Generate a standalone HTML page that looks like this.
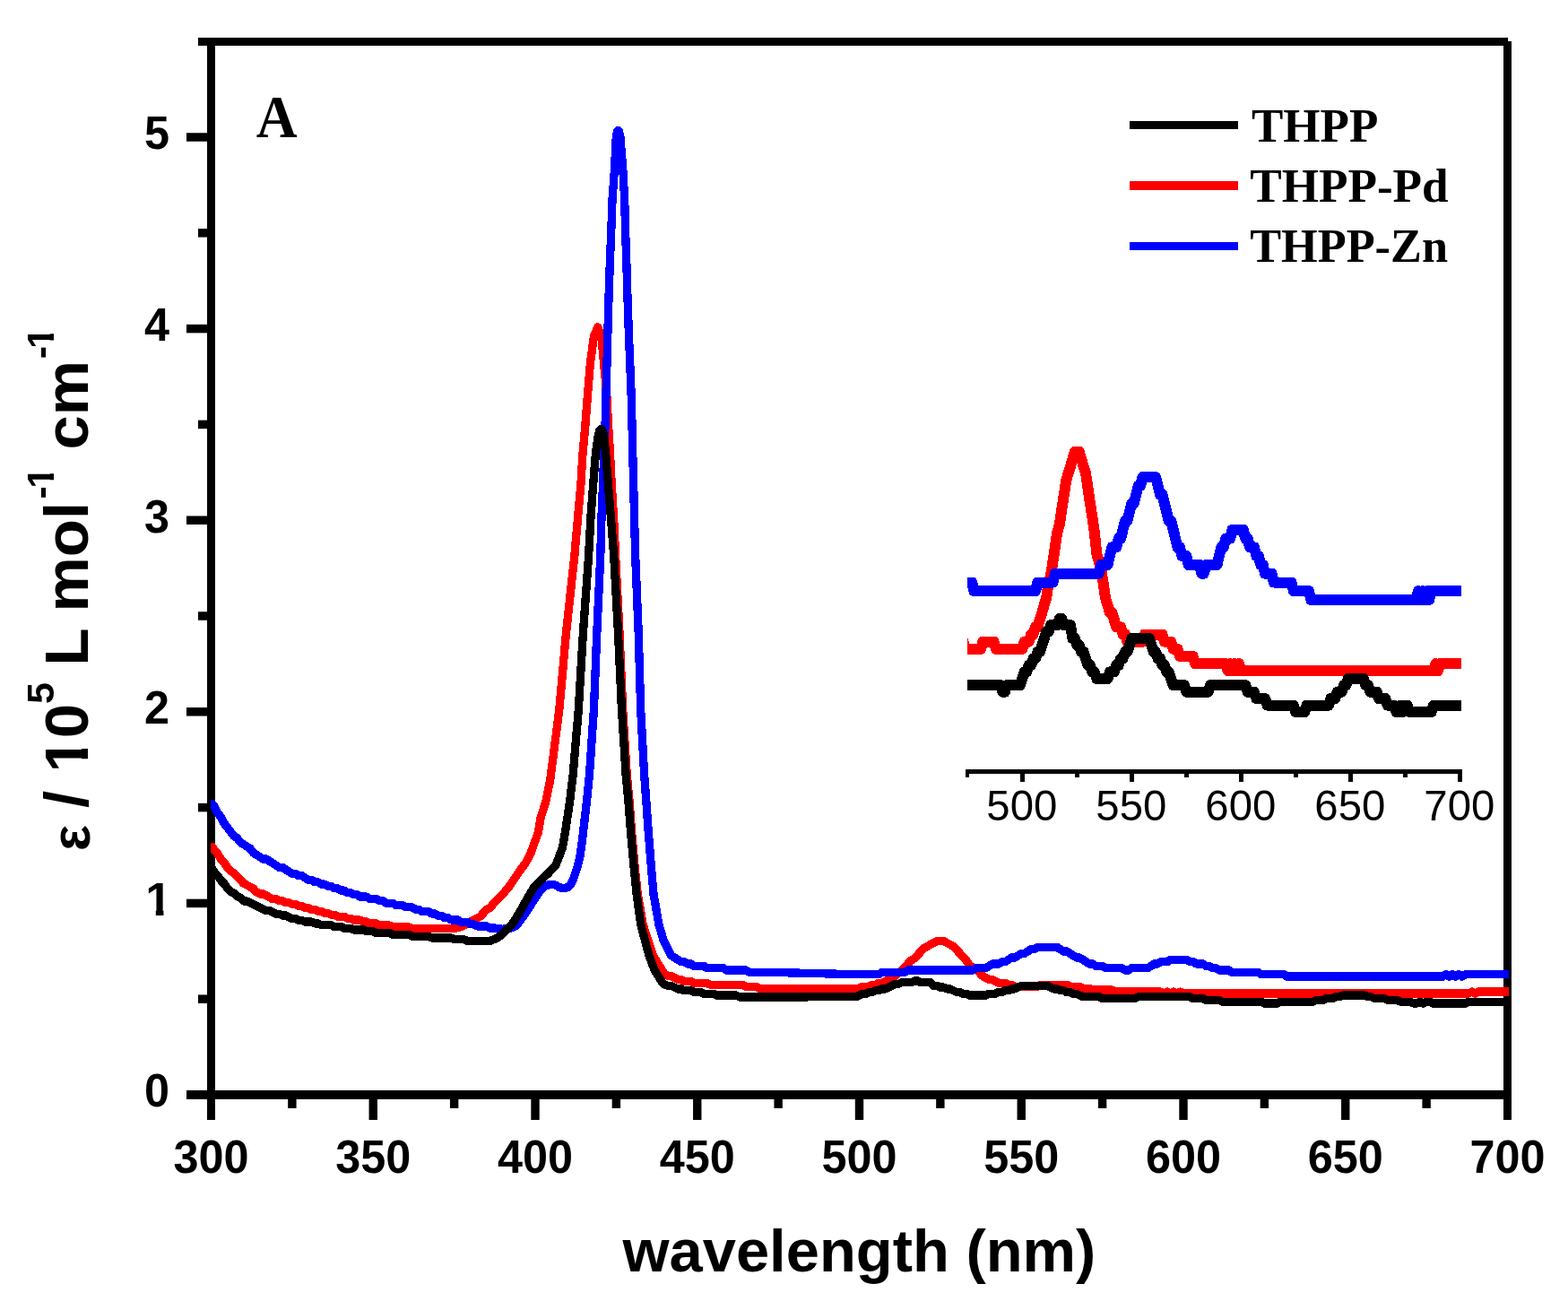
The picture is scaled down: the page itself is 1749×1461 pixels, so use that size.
<!DOCTYPE html>
<html lang="en"><head><meta charset="utf-8"><title>UV-vis absorption spectra</title>
<style>
html,body{margin:0;padding:0;background:#fff}
svg{display:block}
.b{font-family:"Liberation Sans",Arial,Helvetica,sans-serif;font-weight:bold;fill:#000}
.r{font-family:"Liberation Sans",Arial,Helvetica,sans-serif;fill:#000}
.s{font-family:"Liberation Serif","Times New Roman",Times,serif;font-weight:bold;fill:#000}
.c{fill:none;stroke-linejoin:round;stroke-linecap:round}
.u{shape-rendering:geometricPrecision}
</style></head>
<body>
<svg width="1749" height="1461" viewBox="0 0 1749 1461" shape-rendering="crispEdges">
<rect width="1749" height="1461" fill="#fff"/>
<defs><clipPath id="cm"><rect x="235" y="40" width="1448" height="1190"/></clipPath><clipPath id="ci"><rect x="1079" y="480" width="551" height="375"/></clipPath></defs>
<g fill="#000">
<rect x="231" y="42" width="9" height="1207"/>
<rect x="1677" y="46" width="9" height="1203"/>
<rect x="221" y="42" width="1461" height="9"/>
<rect x="208" y="1216" width="1474" height="10"/>
<rect class="u" x="221" y="1109.45" width="11" height="9.5"/>
<rect class="u" x="208" y="1002.65" width="24" height="9.5"/>
<rect class="u" x="221" y="895.85" width="11" height="9.5"/>
<rect class="u" x="208" y="789.05" width="24" height="9.5"/>
<rect class="u" x="221" y="682.25" width="11" height="9.5"/>
<rect class="u" x="208" y="575.45" width="24" height="9.5"/>
<rect class="u" x="221" y="468.65" width="11" height="9.5"/>
<rect class="u" x="208" y="361.85" width="24" height="9.5"/>
<rect class="u" x="221" y="255.05" width="11" height="9.5"/>
<rect class="u" x="208" y="148.25" width="24" height="9.5"/>
<rect class="u" x="321.18" y="1220" width="9.4" height="16"/>
<rect class="u" x="411.55" y="1220" width="9.4" height="29"/>
<rect class="u" x="501.93" y="1220" width="9.4" height="16"/>
<rect class="u" x="592.30" y="1220" width="9.4" height="29"/>
<rect class="u" x="682.67" y="1220" width="9.4" height="16"/>
<rect class="u" x="773.05" y="1220" width="9.4" height="29"/>
<rect class="u" x="863.42" y="1220" width="9.4" height="16"/>
<rect class="u" x="953.80" y="1220" width="9.4" height="29"/>
<rect class="u" x="1044.17" y="1220" width="9.4" height="16"/>
<rect class="u" x="1134.55" y="1220" width="9.4" height="29"/>
<rect class="u" x="1224.92" y="1220" width="9.4" height="16"/>
<rect class="u" x="1315.30" y="1220" width="9.4" height="29"/>
<rect class="u" x="1405.67" y="1220" width="9.4" height="16"/>
<rect class="u" x="1496.05" y="1220" width="9.4" height="29"/>
<rect class="u" x="1586.42" y="1220" width="9.4" height="16"/>
</g>
<g class="b" font-size="52.3" text-anchor="middle">
<text x="235.5" y="1308" textLength="84" lengthAdjust="spacingAndGlyphs">300</text>
<text x="416.2" y="1308" textLength="84" lengthAdjust="spacingAndGlyphs">350</text>
<text x="597.0" y="1308" textLength="84" lengthAdjust="spacingAndGlyphs">400</text>
<text x="777.8" y="1308" textLength="84" lengthAdjust="spacingAndGlyphs">450</text>
<text x="958.5" y="1308" textLength="84" lengthAdjust="spacingAndGlyphs">500</text>
<text x="1139.2" y="1308" textLength="84" lengthAdjust="spacingAndGlyphs">550</text>
<text x="1320.0" y="1308" textLength="84" lengthAdjust="spacingAndGlyphs">600</text>
<text x="1500.8" y="1308" textLength="84" lengthAdjust="spacingAndGlyphs">650</text>
<text x="1681.5" y="1308" textLength="84" lengthAdjust="spacingAndGlyphs">700</text>
</g>
<g class="b" font-size="52.3" text-anchor="end">
<text x="189" y="1234.4" textLength="28" lengthAdjust="spacingAndGlyphs">0</text>
<clipPath id="c1_1"><path d="M159.30,968.50 H193.68 V1014.42 H182.44 V1023.80 H173.81 V1014.42 H159.30 Z"/></clipPath><text clip-path="url(#c1_1)" font-size="52.3" x="162.30" y="1020.80" text-anchor="start">1</text>
<text x="189" y="807.2" textLength="28" lengthAdjust="spacingAndGlyphs">2</text>
<text x="189" y="593.6" textLength="28" lengthAdjust="spacingAndGlyphs">3</text>
<text x="189" y="380.0" textLength="28" lengthAdjust="spacingAndGlyphs">4</text>
<text x="189" y="166.4" textLength="28" lengthAdjust="spacingAndGlyphs">5</text>
</g>
<text class="b" font-size="66" x="958.4" y="1417.7" text-anchor="middle" textLength="528" lengthAdjust="spacingAndGlyphs">wavelength (nm)</text>
<g class="b" transform="translate(98.3 0) rotate(-90)">
<text font-size="61" x="-949.0" y="1.5">ε</text>
<text font-size="69" x="-901.0" y="0">/</text>
<clipPath id="c1_2"><path d="M-864.50,-69.00 H-820.10 V-8.42 H-834.93 V3.00 H-846.32 V-8.42 H-864.50 Z M-821.83,-69.00 H-709.70 V20.70 H-821.83 Z"/></clipPath><text clip-path="url(#c1_2)" font-size="69" x="-861.50" y="0.00">10</text>
<text font-size="43" x="-785.0" y="-38.5">5</text>
<text font-size="69" x="-742.5" y="0">L</text>
<text font-size="69" x="-682.5" y="0">mol</text>
<text font-size="43" x="-556.4" y="-38.5">-</text>
<clipPath id="c1_3"><path d="M-547.70,-81.50 H-518.90 V-43.75 H-528.15 V-35.50 H-535.24 V-43.75 H-547.70 Z"/></clipPath><text clip-path="url(#c1_3)" font-size="43" x="-544.70" y="-38.50">1</text>
<text font-size="69" x="-501.5" y="0">cm</text>
<text font-size="43" x="-400.2" y="-38.5">-</text>
<clipPath id="c1_4"><path d="M-391.90,-81.50 H-363.10 V-43.75 H-372.34 V-35.50 H-379.44 V-43.75 H-391.90 Z"/></clipPath><text clip-path="url(#c1_4)" font-size="43" x="-388.90" y="-38.50">1</text>
</g>
<text class="s" font-size="67.5" x="285.7" y="152.5" textLength="45.8" lengthAdjust="spacingAndGlyphs">A</text>
<rect x="1260" y="135" width="121" height="9" fill="#000"/>
<text class="s" font-size="53" x="1396" y="158.2">THPP</text>
<rect x="1260" y="202" width="121" height="10" fill="#f00"/>
<text class="s" font-size="53" x="1394.2" y="225.0" textLength="221.4" lengthAdjust="spacingAndGlyphs">THPP-Pd</text>
<rect x="1260" y="270" width="121" height="9" fill="#00f"/>
<text class="s" font-size="53" x="1394.2" y="292.0" textLength="220.8" lengthAdjust="spacingAndGlyphs">THPP-Zn</text>
<g clip-path="url(#cm)">
<polyline class="c u" stroke="#f00" stroke-width="8.100000000000001" points="237.0,944.5 239.1,948.1 242.7,952.0 246.3,957.9 250.0,961.8 253.6,967.6 257.2,971.5 260.8,973.5 264.4,977.4 268.0,981.2 271.6,985.1 275.3,987.1 278.9,989.0 282.5,991.0 286.1,994.9 289.7,996.9 293.3,996.9 297.0,998.8 300.6,1000.8 304.2,1002.7 307.8,1002.7 311.4,1004.6 315.0,1004.6 318.6,1006.6 322.3,1006.6 325.9,1008.5 329.5,1008.5 333.1,1010.5 336.7,1010.5 340.3,1012.5 343.9,1012.5 347.6,1014.4 351.2,1014.4 354.8,1016.4 358.4,1016.4 362.0,1018.3 365.6,1018.3 369.3,1020.2 372.9,1020.2 376.5,1022.2 383.7,1022.2 387.3,1024.2 390.9,1024.2 394.6,1026.1 401.8,1026.1 405.4,1028.0 409.0,1028.0 412.6,1030.0 419.9,1030.0 423.5,1032.0 434.3,1032.0 437.9,1033.9 456.0,1033.9 459.6,1035.8 506.6,1035.8 510.2,1033.9 513.9,1033.9 517.5,1032.0 521.1,1030.0 524.7,1028.0 528.3,1026.1 531.9,1024.2 535.5,1022.2 539.2,1018.3 542.8,1014.4 546.4,1012.5 551.5,1006.7 560.9,997.2 568.6,987.8 577.8,974.0 586.5,962.0 591.6,952.5 596.5,938.9 600.3,928.6 603.2,911.5 608.7,894.3 613.7,870.0 623.8,791.5 631.5,705.8 640.8,620.0 644.7,575.8 647.8,541.5 649.9,507.2 653.0,472.9 655.6,438.6 658.5,404.3 662.5,375.0 666.7,364.8 670.8,375.0 673.5,404.3 676.7,438.6 678.5,472.9 680.6,507.2 682.3,541.5 684.5,575.8 686.6,620.0 691.0,705.8 694.7,791.5 699.3,865.0 702.2,894.3 704.6,928.6 707.7,962.9 711.3,997.2 717.3,1031.5 728.5,1065.8 741.0,1086.0 745.2,1088.5 748.8,1088.5 752.4,1090.5 756.1,1092.4 759.7,1092.4 763.3,1094.3 770.5,1094.3 774.1,1096.3 788.6,1096.3 792.2,1098.2 828.4,1098.2 832.0,1100.2 842.8,1100.2 846.4,1102.2 860.9,1102.2 954.9,1102.2 958.5,1102.2 962.1,1100.2 969.3,1100.2 973.0,1098.3 976.6,1098.3 980.2,1096.3 983.8,1096.3 987.4,1094.4 991.0,1092.4 994.7,1090.5 998.3,1088.5 1001.9,1084.6 1005.5,1082.7 1009.1,1078.8 1012.7,1074.9 1016.3,1071.0 1020.0,1069.0 1023.6,1065.1 1027.2,1061.2 1030.8,1057.3 1034.4,1055.4 1038.0,1053.4 1041.6,1051.5 1045.3,1049.5 1052.5,1049.5 1056.1,1051.5 1059.7,1053.4 1063.3,1055.4 1067.0,1059.3 1070.6,1063.2 1074.2,1067.1 1077.8,1071.0 1081.4,1076.8 1085.0,1078.8 1088.6,1080.7 1092.3,1084.6 1095.9,1088.5 1099.5,1090.5 1103.1,1092.4 1106.7,1092.4 1110.3,1094.4 1113.9,1096.3 1121.2,1096.3 1124.8,1098.3 1128.4,1098.3 1132.0,1100.2 1157.3,1100.2 1160.9,1098.3 1189.9,1098.3 1193.5,1100.2 1204.3,1100.2 1207.9,1102.2 1215.2,1102.2 1218.8,1104.1 1240.5,1104.1 1244.1,1106.1 1294.7,1106.1 1298.3,1108.0 1301.9,1106.1 1305.5,1108.0 1309.2,1106.1 1312.8,1108.0 1316.4,1106.1 1320.0,1108.0 1638.1,1108.0 1641.8,1106.1 1645.4,1108.0 1649.0,1106.1 1699.6,1106.1"/>
<polyline class="c" stroke="#f00" stroke-width="9.3" points="237.0,944.5 239.1,948.1 242.7,952.0 246.3,957.9 250.0,961.8 253.6,967.6 257.2,971.5 260.8,973.5 264.4,977.4 268.0,981.2 271.6,985.1 275.3,987.1 278.9,989.0 282.5,991.0 286.1,994.9 289.7,996.9 293.3,996.9 297.0,998.8 300.6,1000.8 304.2,1002.7 307.8,1002.7 311.4,1004.6 315.0,1004.6 318.6,1006.6 322.3,1006.6 325.9,1008.5 329.5,1008.5 333.1,1010.5 336.7,1010.5 340.3,1012.5 343.9,1012.5 347.6,1014.4 351.2,1014.4 354.8,1016.4 358.4,1016.4 362.0,1018.3 365.6,1018.3 369.3,1020.2 372.9,1020.2 376.5,1022.2 383.7,1022.2 387.3,1024.2 390.9,1024.2 394.6,1026.1 401.8,1026.1 405.4,1028.0 409.0,1028.0 412.6,1030.0 419.9,1030.0 423.5,1032.0 434.3,1032.0 437.9,1033.9 456.0,1033.9 459.6,1035.8 506.6,1035.8 510.2,1033.9 513.9,1033.9 517.5,1032.0 521.1,1030.0 524.7,1028.0 528.3,1026.1 531.9,1024.2 535.5,1022.2 539.2,1018.3 542.8,1014.4 546.4,1012.5 551.5,1006.7 560.9,997.2 568.6,987.8 577.8,974.0 586.5,962.0 591.6,952.5 596.5,938.9 600.3,928.6 603.2,911.5 608.7,894.3 613.7,870.0 623.8,791.5 631.5,705.8 640.8,620.0 644.7,575.8 647.8,541.5 649.9,507.2 653.0,472.9 655.6,438.6 658.5,404.3 662.5,375.0 666.7,364.8 670.8,375.0 673.5,404.3 676.7,438.6 678.5,472.9 680.6,507.2 682.3,541.5 684.5,575.8 686.6,620.0 691.0,705.8 694.7,791.5 699.3,865.0 702.2,894.3 704.6,928.6 707.7,962.9 711.3,997.2 717.3,1031.5 728.5,1065.8 741.0,1086.0 745.2,1088.5 748.8,1088.5 752.4,1090.5 756.1,1092.4 759.7,1092.4 763.3,1094.3 770.5,1094.3 774.1,1096.3 788.6,1096.3 792.2,1098.2 828.4,1098.2 832.0,1100.2 842.8,1100.2 846.4,1102.2 860.9,1102.2 954.9,1102.2 958.5,1102.2 962.1,1100.2 969.3,1100.2 973.0,1098.3 976.6,1098.3 980.2,1096.3 983.8,1096.3 987.4,1094.4 991.0,1092.4 994.7,1090.5 998.3,1088.5 1001.9,1084.6 1005.5,1082.7 1009.1,1078.8 1012.7,1074.9 1016.3,1071.0 1020.0,1069.0 1023.6,1065.1 1027.2,1061.2 1030.8,1057.3 1034.4,1055.4 1038.0,1053.4 1041.6,1051.5 1045.3,1049.5 1052.5,1049.5 1056.1,1051.5 1059.7,1053.4 1063.3,1055.4 1067.0,1059.3 1070.6,1063.2 1074.2,1067.1 1077.8,1071.0 1081.4,1076.8 1085.0,1078.8 1088.6,1080.7 1092.3,1084.6 1095.9,1088.5 1099.5,1090.5 1103.1,1092.4 1106.7,1092.4 1110.3,1094.4 1113.9,1096.3 1121.2,1096.3 1124.8,1098.3 1128.4,1098.3 1132.0,1100.2 1157.3,1100.2 1160.9,1098.3 1189.9,1098.3 1193.5,1100.2 1204.3,1100.2 1207.9,1102.2 1215.2,1102.2 1218.8,1104.1 1240.5,1104.1 1244.1,1106.1 1294.7,1106.1 1298.3,1108.0 1301.9,1106.1 1305.5,1108.0 1309.2,1106.1 1312.8,1108.0 1316.4,1106.1 1320.0,1108.0 1638.1,1108.0 1641.8,1106.1 1645.4,1108.0 1649.0,1106.1 1699.6,1106.1"/>
<polyline class="c u" stroke="#00f" stroke-width="8.100000000000001" points="237.0,896.5 239.1,899.5 242.7,906.5 246.3,911.2 250.0,918.2 253.6,922.9 257.2,927.6 260.8,932.3 264.4,934.6 268.0,939.3 271.6,941.6 275.3,944.0 278.9,946.3 282.5,951.0 286.1,953.3 289.7,955.7 293.3,958.0 297.0,958.0 300.6,960.4 304.2,962.7 307.8,965.0 311.4,967.4 315.0,967.4 318.6,969.7 322.3,972.1 325.9,974.4 329.5,974.4 333.1,976.7 336.7,976.7 340.3,979.1 343.9,981.4 347.6,981.4 351.2,983.8 354.8,983.8 358.4,986.1 362.0,986.1 365.6,988.4 369.3,988.4 372.9,990.8 376.5,990.8 380.1,993.1 383.7,993.1 387.3,995.5 390.9,995.5 394.6,997.8 398.2,997.8 401.8,1000.1 409.0,1000.1 412.6,1002.5 419.9,1002.5 423.5,1004.8 427.1,1004.8 430.7,1007.2 437.9,1007.2 441.6,1009.5 448.8,1009.5 452.4,1011.8 459.6,1011.8 463.2,1014.2 466.9,1014.2 470.5,1016.5 477.7,1016.5 481.3,1018.9 484.9,1018.9 488.6,1021.2 492.2,1021.2 495.8,1023.5 499.4,1023.5 503.0,1025.9 510.2,1025.9 513.9,1028.2 521.1,1028.2 524.7,1030.6 528.3,1030.6 531.9,1032.9 542.8,1032.9 546.4,1035.2 551.5,1035.0 560.0,1036.2 567.0,1036.0 575.4,1032.9 584.0,1021.5 591.7,1010.0 598.9,998.6 604.0,991.5 609.0,987.8 613.5,986.3 616.5,986.2 620.5,987.6 624.0,989.8 628.6,990.5 633.0,989.8 636.5,986.5 639.5,980.3 643.5,968.9 646.8,956.3 648.9,941.4 650.3,930.0 654.4,894.3 657.4,865.0 662.4,791.5 665.8,705.8 669.8,620.0 671.0,575.8 672.5,541.5 673.7,507.2 675.1,472.9 676.0,438.6 677.0,404.3 677.9,370.0 679.2,325.8 680.4,291.5 681.8,257.2 683.0,222.9 685.5,188.6 687.3,153.0 688.6,146.5 689.5,145.7 690.4,146.5 691.9,153.0 694.8,188.6 696.7,222.9 697.6,257.2 698.8,291.5 699.8,325.8 701.3,370.0 702.7,404.3 704.1,438.6 705.0,472.9 705.8,507.2 706.7,541.5 707.5,575.8 708.7,620.0 712.2,705.8 714.7,791.5 718.7,865.0 720.9,894.3 723.3,928.6 726.1,962.9 729.0,997.2 735.0,1031.5 740.1,1048.7 745.2,1058.6 748.8,1065.7 752.4,1068.0 756.1,1070.3 759.7,1072.7 763.3,1072.7 766.9,1075.0 770.5,1075.0 774.1,1077.4 785.0,1077.4 788.6,1079.7 806.7,1079.7 810.3,1082.0 832.0,1082.0 835.6,1084.4 860.9,1084.4 954.9,1086.7 980.2,1086.7 983.8,1084.4 1009.1,1084.4 1012.7,1082.0 1085.0,1082.0 1088.6,1079.7 1099.5,1079.7 1103.1,1077.4 1106.7,1075.0 1113.9,1075.0 1117.6,1072.7 1121.2,1072.7 1124.8,1070.3 1128.4,1068.0 1132.0,1068.0 1135.6,1065.7 1139.3,1063.3 1142.9,1063.3 1146.5,1061.0 1150.1,1058.6 1153.7,1058.6 1157.3,1056.3 1179.0,1056.3 1182.6,1058.6 1186.3,1061.0 1189.9,1061.0 1193.5,1063.3 1197.1,1065.7 1200.7,1068.0 1204.3,1068.0 1207.9,1070.3 1211.6,1072.7 1215.2,1075.0 1218.8,1075.0 1222.4,1077.4 1229.6,1077.4 1233.2,1079.7 1251.3,1079.7 1254.9,1082.0 1258.6,1082.0 1262.2,1079.7 1280.2,1079.7 1283.9,1077.4 1287.5,1075.0 1291.1,1075.0 1294.7,1072.7 1301.9,1072.7 1305.5,1070.3 1323.6,1070.3 1327.2,1072.7 1330.9,1072.7 1334.5,1075.0 1341.7,1075.0 1345.3,1077.4 1348.9,1077.4 1352.5,1079.7 1356.2,1079.7 1359.8,1082.0 1370.6,1082.0 1374.2,1084.4 1403.2,1084.4 1406.8,1086.7 1432.1,1086.7 1435.7,1089.1 1609.2,1089.1 1612.8,1086.7 1616.4,1089.1 1620.1,1086.7 1623.7,1089.1 1627.3,1086.7 1630.9,1089.1 1634.5,1086.7 1699.6,1086.7"/>
<polyline class="c" stroke="#00f" stroke-width="9.3" points="237.0,896.5 239.1,899.5 242.7,906.5 246.3,911.2 250.0,918.2 253.6,922.9 257.2,927.6 260.8,932.3 264.4,934.6 268.0,939.3 271.6,941.6 275.3,944.0 278.9,946.3 282.5,951.0 286.1,953.3 289.7,955.7 293.3,958.0 297.0,958.0 300.6,960.4 304.2,962.7 307.8,965.0 311.4,967.4 315.0,967.4 318.6,969.7 322.3,972.1 325.9,974.4 329.5,974.4 333.1,976.7 336.7,976.7 340.3,979.1 343.9,981.4 347.6,981.4 351.2,983.8 354.8,983.8 358.4,986.1 362.0,986.1 365.6,988.4 369.3,988.4 372.9,990.8 376.5,990.8 380.1,993.1 383.7,993.1 387.3,995.5 390.9,995.5 394.6,997.8 398.2,997.8 401.8,1000.1 409.0,1000.1 412.6,1002.5 419.9,1002.5 423.5,1004.8 427.1,1004.8 430.7,1007.2 437.9,1007.2 441.6,1009.5 448.8,1009.5 452.4,1011.8 459.6,1011.8 463.2,1014.2 466.9,1014.2 470.5,1016.5 477.7,1016.5 481.3,1018.9 484.9,1018.9 488.6,1021.2 492.2,1021.2 495.8,1023.5 499.4,1023.5 503.0,1025.9 510.2,1025.9 513.9,1028.2 521.1,1028.2 524.7,1030.6 528.3,1030.6 531.9,1032.9 542.8,1032.9 546.4,1035.2 551.5,1035.0 560.0,1036.2 567.0,1036.0 575.4,1032.9 584.0,1021.5 591.7,1010.0 598.9,998.6 604.0,991.5 609.0,987.8 613.5,986.3 616.5,986.2 620.5,987.6 624.0,989.8 628.6,990.5 633.0,989.8 636.5,986.5 639.5,980.3 643.5,968.9 646.8,956.3 648.9,941.4 650.3,930.0 654.4,894.3 657.4,865.0 662.4,791.5 665.8,705.8 669.8,620.0 671.0,575.8 672.5,541.5 673.7,507.2 675.1,472.9 676.0,438.6 677.0,404.3 677.9,370.0 679.2,325.8 680.4,291.5 681.8,257.2 683.0,222.9 685.5,188.6 687.3,153.0 688.6,146.5 689.5,145.7 690.4,146.5 691.9,153.0 694.8,188.6 696.7,222.9 697.6,257.2 698.8,291.5 699.8,325.8 701.3,370.0 702.7,404.3 704.1,438.6 705.0,472.9 705.8,507.2 706.7,541.5 707.5,575.8 708.7,620.0 712.2,705.8 714.7,791.5 718.7,865.0 720.9,894.3 723.3,928.6 726.1,962.9 729.0,997.2 735.0,1031.5 740.1,1048.7 745.2,1058.6 748.8,1065.7 752.4,1068.0 756.1,1070.3 759.7,1072.7 763.3,1072.7 766.9,1075.0 770.5,1075.0 774.1,1077.4 785.0,1077.4 788.6,1079.7 806.7,1079.7 810.3,1082.0 832.0,1082.0 835.6,1084.4 860.9,1084.4 954.9,1086.7 980.2,1086.7 983.8,1084.4 1009.1,1084.4 1012.7,1082.0 1085.0,1082.0 1088.6,1079.7 1099.5,1079.7 1103.1,1077.4 1106.7,1075.0 1113.9,1075.0 1117.6,1072.7 1121.2,1072.7 1124.8,1070.3 1128.4,1068.0 1132.0,1068.0 1135.6,1065.7 1139.3,1063.3 1142.9,1063.3 1146.5,1061.0 1150.1,1058.6 1153.7,1058.6 1157.3,1056.3 1179.0,1056.3 1182.6,1058.6 1186.3,1061.0 1189.9,1061.0 1193.5,1063.3 1197.1,1065.7 1200.7,1068.0 1204.3,1068.0 1207.9,1070.3 1211.6,1072.7 1215.2,1075.0 1218.8,1075.0 1222.4,1077.4 1229.6,1077.4 1233.2,1079.7 1251.3,1079.7 1254.9,1082.0 1258.6,1082.0 1262.2,1079.7 1280.2,1079.7 1283.9,1077.4 1287.5,1075.0 1291.1,1075.0 1294.7,1072.7 1301.9,1072.7 1305.5,1070.3 1323.6,1070.3 1327.2,1072.7 1330.9,1072.7 1334.5,1075.0 1341.7,1075.0 1345.3,1077.4 1348.9,1077.4 1352.5,1079.7 1356.2,1079.7 1359.8,1082.0 1370.6,1082.0 1374.2,1084.4 1403.2,1084.4 1406.8,1086.7 1432.1,1086.7 1435.7,1089.1 1609.2,1089.1 1612.8,1086.7 1616.4,1089.1 1620.1,1086.7 1623.7,1089.1 1627.3,1086.7 1630.9,1089.1 1634.5,1086.7 1699.6,1086.7"/>
<polyline class="c u" stroke="#000" stroke-width="8.100000000000001" points="237.0,969.0 239.1,972.9 242.7,976.4 246.3,981.8 250.0,985.4 253.6,990.7 257.2,994.3 260.8,996.0 264.4,999.6 268.0,1001.4 271.6,1005.0 275.3,1005.0 278.9,1006.7 282.5,1008.5 286.1,1010.3 289.7,1012.1 293.3,1013.9 297.0,1015.6 300.6,1015.6 304.2,1017.4 307.8,1019.2 311.4,1019.2 315.0,1021.0 318.6,1021.0 322.3,1022.8 325.9,1024.6 329.5,1024.6 333.1,1026.3 336.7,1026.3 340.3,1028.1 347.6,1028.1 351.2,1029.9 354.8,1029.9 358.4,1031.7 369.3,1031.7 372.9,1033.5 380.1,1033.5 383.7,1035.2 390.9,1035.2 394.6,1037.0 405.4,1037.0 409.0,1038.8 416.2,1038.8 419.9,1040.6 434.3,1040.6 437.9,1042.4 456.0,1042.4 459.6,1044.2 477.7,1044.2 481.3,1045.9 503.0,1045.9 506.6,1047.7 517.5,1047.7 521.1,1049.5 546.4,1049.5 551.0,1047.6 553.5,1046.6 557.5,1044.0 562.0,1040.1 570.8,1031.5 579.4,1017.8 588.0,1002.4 595.5,989.5 603.4,981.3 611.5,974.1 620.1,964.6 627.3,945.8 630.4,928.6 635.5,894.3 639.1,865.0 645.3,791.5 650.4,705.8 656.6,620.0 659.0,575.8 661.6,541.5 664.3,507.2 666.8,488.0 668.6,480.2 670.3,478.5 672.0,480.2 673.8,488.0 675.8,507.2 678.5,541.5 681.3,575.8 684.7,620.0 689.5,705.8 693.5,791.5 698.2,865.0 701.0,894.3 703.6,928.6 706.7,962.9 710.1,997.2 714.8,1031.5 724.0,1065.8 730.5,1083.0 740.1,1097.6 745.2,1099.4 748.8,1099.4 752.4,1101.2 756.1,1103.0 759.7,1103.0 763.3,1104.7 770.5,1104.7 774.1,1106.5 781.4,1106.5 785.0,1108.3 795.8,1108.3 799.4,1110.1 821.1,1110.1 824.7,1111.9 860.9,1111.9 954.9,1111.8 958.5,1110.1 962.1,1108.3 965.7,1108.3 969.3,1106.5 973.0,1106.5 976.6,1104.7 980.2,1104.7 983.8,1102.9 987.4,1102.9 991.0,1101.1 994.7,1099.4 998.3,1097.6 1001.9,1097.6 1005.5,1095.8 1016.3,1095.8 1020.0,1094.0 1023.6,1094.0 1027.2,1095.8 1038.0,1095.8 1041.6,1099.4 1045.3,1099.4 1048.9,1101.1 1052.5,1101.1 1056.1,1102.9 1059.7,1102.9 1063.3,1104.7 1067.0,1106.5 1070.6,1106.5 1074.2,1108.3 1077.8,1108.3 1081.4,1110.1 1099.5,1110.1 1103.1,1108.3 1110.3,1108.3 1113.9,1106.5 1117.6,1106.5 1121.2,1104.7 1124.8,1104.7 1128.4,1102.9 1132.0,1102.9 1135.6,1101.1 1139.3,1099.4 1168.2,1099.4 1171.8,1101.1 1175.4,1102.9 1179.0,1102.9 1182.6,1104.7 1186.3,1104.7 1189.9,1106.5 1193.5,1106.5 1197.1,1108.3 1200.7,1108.3 1204.3,1110.1 1207.9,1111.8 1226.0,1111.8 1229.6,1113.6 1265.8,1113.6 1269.4,1111.8 1327.2,1111.8 1330.9,1113.6 1341.7,1113.6 1345.3,1115.4 1359.8,1115.4 1363.4,1117.2 1406.8,1117.2 1410.4,1119.0 1424.8,1119.0 1428.5,1117.2 1464.6,1117.2 1468.2,1115.4 1475.5,1115.4 1479.1,1113.6 1486.3,1113.6 1489.9,1111.8 1493.5,1111.8 1497.2,1110.1 1522.5,1110.1 1526.1,1111.8 1529.7,1111.8 1533.3,1113.6 1544.1,1113.6 1547.8,1115.4 1558.6,1115.4 1562.2,1117.2 1573.1,1117.2 1576.7,1119.0 1580.3,1119.0 1583.9,1117.2 1587.5,1119.0 1591.1,1117.2 1594.8,1117.2 1598.4,1119.0 1634.5,1119.0 1638.1,1117.2 1699.6,1117.2"/>
<polyline class="c" stroke="#000" stroke-width="9.3" points="237.0,969.0 239.1,972.9 242.7,976.4 246.3,981.8 250.0,985.4 253.6,990.7 257.2,994.3 260.8,996.0 264.4,999.6 268.0,1001.4 271.6,1005.0 275.3,1005.0 278.9,1006.7 282.5,1008.5 286.1,1010.3 289.7,1012.1 293.3,1013.9 297.0,1015.6 300.6,1015.6 304.2,1017.4 307.8,1019.2 311.4,1019.2 315.0,1021.0 318.6,1021.0 322.3,1022.8 325.9,1024.6 329.5,1024.6 333.1,1026.3 336.7,1026.3 340.3,1028.1 347.6,1028.1 351.2,1029.9 354.8,1029.9 358.4,1031.7 369.3,1031.7 372.9,1033.5 380.1,1033.5 383.7,1035.2 390.9,1035.2 394.6,1037.0 405.4,1037.0 409.0,1038.8 416.2,1038.8 419.9,1040.6 434.3,1040.6 437.9,1042.4 456.0,1042.4 459.6,1044.2 477.7,1044.2 481.3,1045.9 503.0,1045.9 506.6,1047.7 517.5,1047.7 521.1,1049.5 546.4,1049.5 551.0,1047.6 553.5,1046.6 557.5,1044.0 562.0,1040.1 570.8,1031.5 579.4,1017.8 588.0,1002.4 595.5,989.5 603.4,981.3 611.5,974.1 620.1,964.6 627.3,945.8 630.4,928.6 635.5,894.3 639.1,865.0 645.3,791.5 650.4,705.8 656.6,620.0 659.0,575.8 661.6,541.5 664.3,507.2 666.8,488.0 668.6,480.2 670.3,478.5 672.0,480.2 673.8,488.0 675.8,507.2 678.5,541.5 681.3,575.8 684.7,620.0 689.5,705.8 693.5,791.5 698.2,865.0 701.0,894.3 703.6,928.6 706.7,962.9 710.1,997.2 714.8,1031.5 724.0,1065.8 730.5,1083.0 740.1,1097.6 745.2,1099.4 748.8,1099.4 752.4,1101.2 756.1,1103.0 759.7,1103.0 763.3,1104.7 770.5,1104.7 774.1,1106.5 781.4,1106.5 785.0,1108.3 795.8,1108.3 799.4,1110.1 821.1,1110.1 824.7,1111.9 860.9,1111.9 954.9,1111.8 958.5,1110.1 962.1,1108.3 965.7,1108.3 969.3,1106.5 973.0,1106.5 976.6,1104.7 980.2,1104.7 983.8,1102.9 987.4,1102.9 991.0,1101.1 994.7,1099.4 998.3,1097.6 1001.9,1097.6 1005.5,1095.8 1016.3,1095.8 1020.0,1094.0 1023.6,1094.0 1027.2,1095.8 1038.0,1095.8 1041.6,1099.4 1045.3,1099.4 1048.9,1101.1 1052.5,1101.1 1056.1,1102.9 1059.7,1102.9 1063.3,1104.7 1067.0,1106.5 1070.6,1106.5 1074.2,1108.3 1077.8,1108.3 1081.4,1110.1 1099.5,1110.1 1103.1,1108.3 1110.3,1108.3 1113.9,1106.5 1117.6,1106.5 1121.2,1104.7 1124.8,1104.7 1128.4,1102.9 1132.0,1102.9 1135.6,1101.1 1139.3,1099.4 1168.2,1099.4 1171.8,1101.1 1175.4,1102.9 1179.0,1102.9 1182.6,1104.7 1186.3,1104.7 1189.9,1106.5 1193.5,1106.5 1197.1,1108.3 1200.7,1108.3 1204.3,1110.1 1207.9,1111.8 1226.0,1111.8 1229.6,1113.6 1265.8,1113.6 1269.4,1111.8 1327.2,1111.8 1330.9,1113.6 1341.7,1113.6 1345.3,1115.4 1359.8,1115.4 1363.4,1117.2 1406.8,1117.2 1410.4,1119.0 1424.8,1119.0 1428.5,1117.2 1464.6,1117.2 1468.2,1115.4 1475.5,1115.4 1479.1,1113.6 1486.3,1113.6 1489.9,1111.8 1493.5,1111.8 1497.2,1110.1 1522.5,1110.1 1526.1,1111.8 1529.7,1111.8 1533.3,1113.6 1544.1,1113.6 1547.8,1115.4 1558.6,1115.4 1562.2,1117.2 1573.1,1117.2 1576.7,1119.0 1580.3,1119.0 1583.9,1117.2 1587.5,1119.0 1591.1,1117.2 1594.8,1117.2 1598.4,1119.0 1634.5,1119.0 1638.1,1117.2 1699.6,1117.2"/>
</g>
<g fill="#000">
<rect x="1077" y="858" width="554" height="5"/>
<rect x="1077" y="858" width="4" height="9"/>
<rect x="1138" y="858" width="5" height="14"/>
<rect x="1199" y="858" width="5" height="9"/>
<rect x="1260" y="858" width="5" height="14"/>
<rect x="1321" y="858" width="5" height="9"/>
<rect x="1382" y="858" width="5" height="14"/>
<rect x="1443" y="858" width="5" height="9"/>
<rect x="1504" y="858" width="5" height="14"/>
<rect x="1565" y="858" width="5" height="9"/>
<rect x="1626" y="858" width="5" height="14"/>
</g>
<g class="r" font-size="47.5" text-anchor="middle">
<text x="1139.8" y="914.5" textLength="79" lengthAdjust="spacingAndGlyphs">500</text>
<text x="1261.8" y="914.5" textLength="79" lengthAdjust="spacingAndGlyphs">550</text>
<text x="1383.8" y="914.5" textLength="79" lengthAdjust="spacingAndGlyphs">600</text>
<text x="1505.8" y="914.5" textLength="79" lengthAdjust="spacingAndGlyphs">650</text>
<text x="1627.8" y="914.5" textLength="79" lengthAdjust="spacingAndGlyphs">700</text>
</g>
<g clip-path="url(#ci)">
<polyline class="c u" stroke="#f00" stroke-width="10.8" points="1067.1,715.7 1074.4,715.7 1076.9,723.8 1093.9,723.8 1096.4,715.7 1108.6,715.7 1111.0,723.8 1140.3,723.8 1142.7,715.7 1147.6,715.7 1150.1,707.5 1152.5,707.5 1154.9,699.4 1157.4,699.4 1159.8,691.2 1162.3,683.1 1164.7,674.9 1167.1,666.8 1169.6,650.5 1172.0,642.3 1174.5,626.0 1176.9,609.8 1179.3,593.4 1181.8,585.3 1184.2,569.0 1186.7,552.7 1189.1,536.4 1191.5,528.2 1194.0,520.1 1196.4,511.9 1198.9,503.8 1203.7,503.8 1206.2,511.9 1208.6,520.1 1211.1,528.2 1213.5,544.5 1215.9,560.8 1218.4,577.1 1220.8,593.4 1223.3,617.9 1225.7,626.0 1228.1,634.2 1230.6,650.5 1233.0,666.8 1235.5,674.9 1237.9,683.1 1240.3,683.1 1242.8,691.2 1245.2,699.4 1250.1,699.4 1252.5,707.5 1255.0,707.5 1257.4,715.7 1274.5,715.7 1276.9,707.5 1296.5,707.5 1298.9,715.7 1306.2,715.7 1308.7,723.8 1313.5,723.8 1316.0,732.0 1330.6,732.0 1333.1,740.1 1367.2,740.1 1369.7,748.3 1372.1,740.1 1374.5,748.3 1377.0,740.1 1379.4,748.3 1381.9,740.1 1384.3,748.3 1599.0,748.3 1601.5,740.1 1603.9,748.3 1606.3,740.1 1640.5,740.1"/>
<polyline class="c" stroke="#f00" stroke-width="12" points="1067.1,715.7 1074.4,715.7 1076.9,723.8 1093.9,723.8 1096.4,715.7 1108.6,715.7 1111.0,723.8 1140.3,723.8 1142.7,715.7 1147.6,715.7 1150.1,707.5 1152.5,707.5 1154.9,699.4 1157.4,699.4 1159.8,691.2 1162.3,683.1 1164.7,674.9 1167.1,666.8 1169.6,650.5 1172.0,642.3 1174.5,626.0 1176.9,609.8 1179.3,593.4 1181.8,585.3 1184.2,569.0 1186.7,552.7 1189.1,536.4 1191.5,528.2 1194.0,520.1 1196.4,511.9 1198.9,503.8 1203.7,503.8 1206.2,511.9 1208.6,520.1 1211.1,528.2 1213.5,544.5 1215.9,560.8 1218.4,577.1 1220.8,593.4 1223.3,617.9 1225.7,626.0 1228.1,634.2 1230.6,650.5 1233.0,666.8 1235.5,674.9 1237.9,683.1 1240.3,683.1 1242.8,691.2 1245.2,699.4 1250.1,699.4 1252.5,707.5 1255.0,707.5 1257.4,715.7 1274.5,715.7 1276.9,707.5 1296.5,707.5 1298.9,715.7 1306.2,715.7 1308.7,723.8 1313.5,723.8 1316.0,732.0 1330.6,732.0 1333.1,740.1 1367.2,740.1 1369.7,748.3 1372.1,740.1 1374.5,748.3 1377.0,740.1 1379.4,748.3 1381.9,740.1 1384.3,748.3 1599.0,748.3 1601.5,740.1 1603.9,748.3 1606.3,740.1 1640.5,740.1"/>
<polyline class="c u" stroke="#00f" stroke-width="10.8" points="1067.1,649.5 1084.2,649.5 1086.6,659.2 1154.9,659.2 1157.4,649.5 1174.5,649.5 1176.9,639.7 1225.7,639.7 1228.1,629.9 1235.5,629.9 1237.9,620.1 1240.3,610.3 1245.2,610.3 1247.7,600.6 1250.1,600.6 1252.5,590.8 1255.0,581.0 1257.4,581.0 1259.9,571.2 1262.3,561.4 1264.7,561.4 1267.2,551.7 1269.6,541.9 1272.1,541.9 1274.5,532.1 1289.1,532.1 1291.6,541.9 1294.0,551.7 1296.5,551.7 1298.9,561.4 1301.3,571.2 1303.8,581.0 1306.2,581.0 1308.7,590.8 1311.1,600.6 1313.5,610.3 1316.0,610.3 1318.4,620.1 1323.3,620.1 1325.7,629.9 1337.9,629.9 1340.4,639.7 1342.8,639.7 1345.3,629.9 1357.5,629.9 1359.9,620.1 1362.3,610.3 1364.8,610.3 1367.2,600.6 1372.1,600.6 1374.5,590.8 1386.7,590.8 1389.2,600.6 1391.6,600.6 1394.1,610.3 1398.9,610.3 1401.4,620.1 1403.8,620.1 1406.3,629.9 1408.7,629.9 1411.1,639.7 1418.5,639.7 1420.9,649.5 1440.4,649.5 1442.9,659.2 1459.9,659.2 1462.4,669.0 1579.5,669.0 1581.9,659.2 1584.4,669.0 1586.8,659.2 1589.3,669.0 1591.7,659.2 1594.1,669.0 1596.6,659.2 1640.5,659.2"/>
<polyline class="c" stroke="#00f" stroke-width="12" points="1067.1,649.5 1084.2,649.5 1086.6,659.2 1154.9,659.2 1157.4,649.5 1174.5,649.5 1176.9,639.7 1225.7,639.7 1228.1,629.9 1235.5,629.9 1237.9,620.1 1240.3,610.3 1245.2,610.3 1247.7,600.6 1250.1,600.6 1252.5,590.8 1255.0,581.0 1257.4,581.0 1259.9,571.2 1262.3,561.4 1264.7,561.4 1267.2,551.7 1269.6,541.9 1272.1,541.9 1274.5,532.1 1289.1,532.1 1291.6,541.9 1294.0,551.7 1296.5,551.7 1298.9,561.4 1301.3,571.2 1303.8,581.0 1306.2,581.0 1308.7,590.8 1311.1,600.6 1313.5,610.3 1316.0,610.3 1318.4,620.1 1323.3,620.1 1325.7,629.9 1337.9,629.9 1340.4,639.7 1342.8,639.7 1345.3,629.9 1357.5,629.9 1359.9,620.1 1362.3,610.3 1364.8,610.3 1367.2,600.6 1372.1,600.6 1374.5,590.8 1386.7,590.8 1389.2,600.6 1391.6,600.6 1394.1,610.3 1398.9,610.3 1401.4,620.1 1403.8,620.1 1406.3,629.9 1408.7,629.9 1411.1,639.7 1418.5,639.7 1420.9,649.5 1440.4,649.5 1442.9,659.2 1459.9,659.2 1462.4,669.0 1579.5,669.0 1581.9,659.2 1584.4,669.0 1586.8,659.2 1589.3,669.0 1591.7,659.2 1594.1,669.0 1596.6,659.2 1640.5,659.2"/>
<polyline class="c u" stroke="#000" stroke-width="10.8" points="1067.1,764.2 1115.9,764.2 1118.3,771.7 1120.8,771.7 1123.2,764.2 1137.9,764.2 1140.3,756.8 1142.7,749.4 1145.2,749.4 1147.6,741.9 1150.1,741.9 1152.5,734.5 1154.9,734.5 1157.4,727.0 1159.8,727.0 1162.3,719.6 1164.7,712.1 1167.1,704.6 1169.6,704.6 1172.0,697.2 1179.3,697.2 1181.8,689.8 1184.2,689.8 1186.7,697.2 1194.0,697.2 1196.4,712.1 1198.9,712.1 1201.3,719.6 1203.7,719.6 1206.2,727.0 1208.6,727.0 1211.1,734.5 1213.5,741.9 1215.9,741.9 1218.4,749.4 1220.8,749.4 1223.3,756.8 1235.5,756.8 1237.9,749.4 1242.8,749.4 1245.2,741.9 1247.7,741.9 1250.1,734.5 1252.5,734.5 1255.0,727.0 1257.4,727.0 1259.9,719.6 1262.3,712.1 1281.8,712.1 1284.3,719.6 1286.7,727.0 1289.1,727.0 1291.6,734.5 1294.0,734.5 1296.5,741.9 1298.9,741.9 1301.3,749.4 1303.8,749.4 1306.2,756.8 1308.7,764.2 1320.9,764.2 1323.3,771.7 1347.7,771.7 1350.1,764.2 1389.2,764.2 1391.6,771.7 1398.9,771.7 1401.4,779.1 1411.1,779.1 1413.6,786.6 1442.9,786.6 1445.3,794.1 1455.1,794.1 1457.5,786.6 1481.9,786.6 1484.3,779.1 1489.2,779.1 1491.7,771.7 1496.5,771.7 1499.0,764.2 1501.4,764.2 1503.9,756.8 1520.9,756.8 1523.4,764.2 1525.8,764.2 1528.3,771.7 1535.6,771.7 1538.0,779.1 1545.3,779.1 1547.8,786.6 1555.1,786.6 1557.5,794.1 1560.0,794.1 1562.4,786.6 1564.9,794.1 1567.3,786.6 1569.7,786.6 1572.2,794.1 1596.6,794.1 1599.0,786.6 1640.5,786.6"/>
<polyline class="c" stroke="#000" stroke-width="12" points="1067.1,764.2 1115.9,764.2 1118.3,771.7 1120.8,771.7 1123.2,764.2 1137.9,764.2 1140.3,756.8 1142.7,749.4 1145.2,749.4 1147.6,741.9 1150.1,741.9 1152.5,734.5 1154.9,734.5 1157.4,727.0 1159.8,727.0 1162.3,719.6 1164.7,712.1 1167.1,704.6 1169.6,704.6 1172.0,697.2 1179.3,697.2 1181.8,689.8 1184.2,689.8 1186.7,697.2 1194.0,697.2 1196.4,712.1 1198.9,712.1 1201.3,719.6 1203.7,719.6 1206.2,727.0 1208.6,727.0 1211.1,734.5 1213.5,741.9 1215.9,741.9 1218.4,749.4 1220.8,749.4 1223.3,756.8 1235.5,756.8 1237.9,749.4 1242.8,749.4 1245.2,741.9 1247.7,741.9 1250.1,734.5 1252.5,734.5 1255.0,727.0 1257.4,727.0 1259.9,719.6 1262.3,712.1 1281.8,712.1 1284.3,719.6 1286.7,727.0 1289.1,727.0 1291.6,734.5 1294.0,734.5 1296.5,741.9 1298.9,741.9 1301.3,749.4 1303.8,749.4 1306.2,756.8 1308.7,764.2 1320.9,764.2 1323.3,771.7 1347.7,771.7 1350.1,764.2 1389.2,764.2 1391.6,771.7 1398.9,771.7 1401.4,779.1 1411.1,779.1 1413.6,786.6 1442.9,786.6 1445.3,794.1 1455.1,794.1 1457.5,786.6 1481.9,786.6 1484.3,779.1 1489.2,779.1 1491.7,771.7 1496.5,771.7 1499.0,764.2 1501.4,764.2 1503.9,756.8 1520.9,756.8 1523.4,764.2 1525.8,764.2 1528.3,771.7 1535.6,771.7 1538.0,779.1 1545.3,779.1 1547.8,786.6 1555.1,786.6 1557.5,794.1 1560.0,794.1 1562.4,786.6 1564.9,794.1 1567.3,786.6 1569.7,786.6 1572.2,794.1 1596.6,794.1 1599.0,786.6 1640.5,786.6"/>
</g>
</svg>
</body></html>
